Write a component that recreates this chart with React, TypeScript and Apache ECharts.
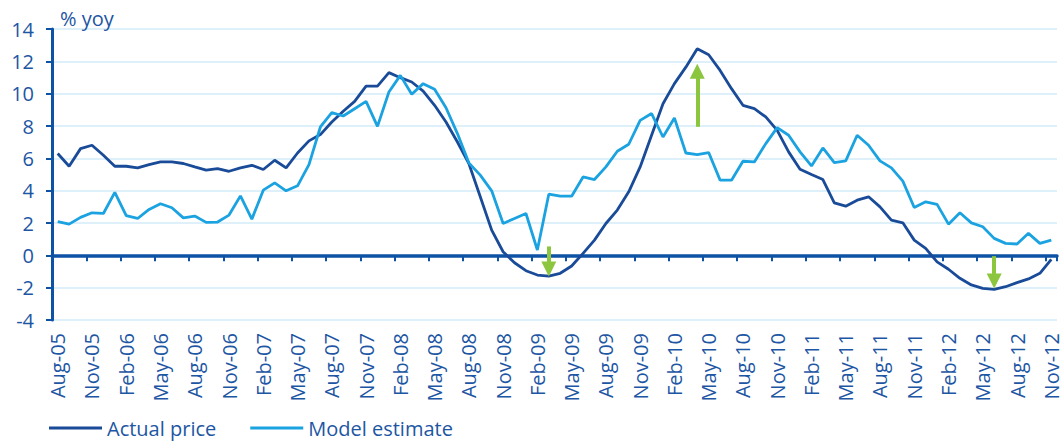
import React, { useEffect, useRef } from "react";
import * as echarts from "echarts";

const months = [
  "Aug-05","Sep-05","Oct-05","Nov-05","Dec-05",
  "Jan-06","Feb-06","Mar-06","Apr-06","May-06","Jun-06","Jul-06","Aug-06","Sep-06","Oct-06","Nov-06","Dec-06",
  "Jan-07","Feb-07","Mar-07","Apr-07","May-07","Jun-07","Jul-07","Aug-07","Sep-07","Oct-07","Nov-07","Dec-07",
  "Jan-08","Feb-08","Mar-08","Apr-08","May-08","Jun-08","Jul-08","Aug-08","Sep-08","Oct-08","Nov-08","Dec-08",
  "Jan-09","Feb-09","Mar-09","Apr-09","May-09","Jun-09","Jul-09","Aug-09","Sep-09","Oct-09","Nov-09","Dec-09",
  "Jan-10","Feb-10","Mar-10","Apr-10","May-10","Jun-10","Jul-10","Aug-10","Sep-10","Oct-10","Nov-10","Dec-10",
  "Jan-11","Feb-11","Mar-11","Apr-11","May-11","Jun-11","Jul-11","Aug-11","Sep-11","Oct-11","Nov-11","Dec-11",
  "Jan-12","Feb-12","Mar-12","Apr-12","May-12","Jun-12","Jul-12","Aug-12","Sep-12","Oct-12","Nov-12",
];

const actualPrice = [
  6.30,5.51,6.60,6.81,6.19,5.51,5.51,5.41,5.61,5.78,5.78,5.68,5.47,5.27,5.37,
  5.20,5.41,5.57,5.31,5.88,5.41,6.33,7.08,7.47,8.25,8.91,9.52,10.47,10.47,11.30,
  10.99,10.72,10.16,9.28,8.25,7.01,5.68,3.62,1.56,0.22,-0.46,-0.95,-1.22,-1.28,
  -1.11,-0.66,0.12,0.94,1.97,2.80,3.93,5.47,7.43,9.38,10.62,11.64,12.78,12.41,11.44,
  10.31,9.28,9.07,8.56,7.73,6.40,5.33,5.00,4.69,3.25,3.04,3.41,3.62,3.00,
  2.18,2.01,0.94,0.43,-0.40,-0.86,-1.42,-1.83,-2.04,-2.10,-1.94,-1.69,-1.46,-1.11,-0.25,
];

const modelEstimate = [
  2.08,1.93,2.35,2.63,2.59,3.89,2.45,2.28,2.84,3.19,2.94,2.32,2.43,2.04,2.06,
  2.49,3.68,2.24,4.03,4.48,3.99,4.30,5.61,7.94,8.83,8.62,9.07,9.52,7.98,10.10,
  11.13,9.96,10.62,10.27,9.13,7.53,5.72,4.96,3.99,1.97,2.28,2.59,0.33,3.78,
  3.66,3.66,4.85,4.69,5.47,6.44,6.87,8.35,8.77,7.32,8.50,6.33,6.23,6.36,4.65,
  4.65,5.82,5.78,6.91,7.90,7.43,6.40,5.53,6.64,5.74,5.84,7.43,6.81,5.84,
  5.41,4.59,2.96,3.31,3.15,1.93,2.63,2.01,1.77,1.05,0.74,0.70,1.36,0.74,0.94,
];

// green arrows: month, start value, tip value
const arrowMonths = ["Mar-09", "Apr-10", "Jun-12"];
const arrowFrom = [0.55, 7.95, -0.05];
const arrowTip = [-1.3, 11.85, -2.04];

const DARK = "#1a4b98";
const LIGHT = "#1ba2e0";
const AXIS = "#0e52a6";
const TEXT = "#1d56a3";
const GRID = "#d3ecf8";
const GREEN = "#8cc63f";
const FONT = "Open Sans";

export default function App() {
  const ref = useRef<HTMLDivElement>(null);
  useEffect(() => {
    if (!ref.current) return;
    const chart = echarts.init(ref.current, null, { renderer: "svg" });
    const headHalf = 0.46; // half arrow head in value units
    const arrowData = arrowMonths.map((m, i) => {
      const dir = arrowTip[i] > arrowFrom[i] ? 1 : -1;
      return [
        { coord: [m, arrowFrom[i]] },
        { coord: [m, arrowTip[i] - dir * headHalf] },
      ];
    });
    chart.setOption({
      animation: false,
      title: {
        text: "% yoy",
        left: 55,
        top: 3,
        textStyle: { fontFamily: FONT, fontSize: 20, fontWeight: "normal", color: TEXT },
      },
      legend: {
        left: 49,
        top: 417,
        padding: 0,
        itemWidth: 53,
        itemHeight: 3,
        itemGap: 34,
        icon: "rect",
        textStyle: { fontFamily: FONT, fontSize: 20, color: TEXT, lineHeight: 22 },
        data: ["Actual price", "Model estimate"],
      },
      grid: { left: 52, right: 7, top: 29, bottom: 123, containLabel: false },
      xAxis: [
        {
          type: "category",
          data: months,
          boundaryGap: true,
          position: "bottom",
          axisLine: { show: false, onZero: false },
          axisTick: { show: false },
          axisLabel: {
            interval: 2,
            rotate: 90,
            margin: 13,
            fontFamily: FONT,
            fontSize: 20,
            color: TEXT,
          },
          splitLine: { show: false },
        },
        {
          type: "category",
          data: months,
          boundaryGap: true,
          position: "bottom",
          axisLine: { show: true, onZero: true, lineStyle: { color: AXIS, width: 3.5 } },
          axisTick: { show: true, interval: 2, length: 6, lineStyle: { color: AXIS, width: 2 } },
          axisLabel: { show: false },
          splitLine: { show: false },
        },
      ],
      yAxis: {
        type: "value",
        min: -4,
        max: 14,
        interval: 2,
        axisLine: { show: true, lineStyle: { color: AXIS, width: 3 } },
        axisTick: { show: true, length: 6, lineStyle: { color: AXIS, width: 2 } },
        axisLabel: {
          margin: 18,
          fontFamily: FONT,
          fontSize: 20,
          color: TEXT,
        },
        splitLine: { show: true, lineStyle: { color: GRID, width: 1.5 } },
      },
      series: [
        {
          name: "Actual price",
          type: "line",
          data: actualPrice,
          showSymbol: false,
          symbol: "none",
          color: DARK,
          lineStyle: { color: DARK, width: 2.8 },
          emphasis: { disabled: true },
          markLine: {
            silent: true,
            symbol: ["none", "triangle"],
            symbolSize: [15, 15],
            label: { show: false },
            emphasis: { disabled: true },
            lineStyle: { color: GREEN, width: 4, type: "solid" },
            data: arrowData,
          },
        },
        {
          name: "Model estimate",
          type: "line",
          data: modelEstimate,
          showSymbol: false,
          symbol: "none",
          color: LIGHT,
          lineStyle: { color: LIGHT, width: 2.8 },
          emphasis: { disabled: true },
        },
      ],
    });
    return () => chart.dispose();
  }, []);
  return <div ref={ref} style={{ width: 1064, height: 443, position: "absolute", left: 0, top: 0 }} />;
}
